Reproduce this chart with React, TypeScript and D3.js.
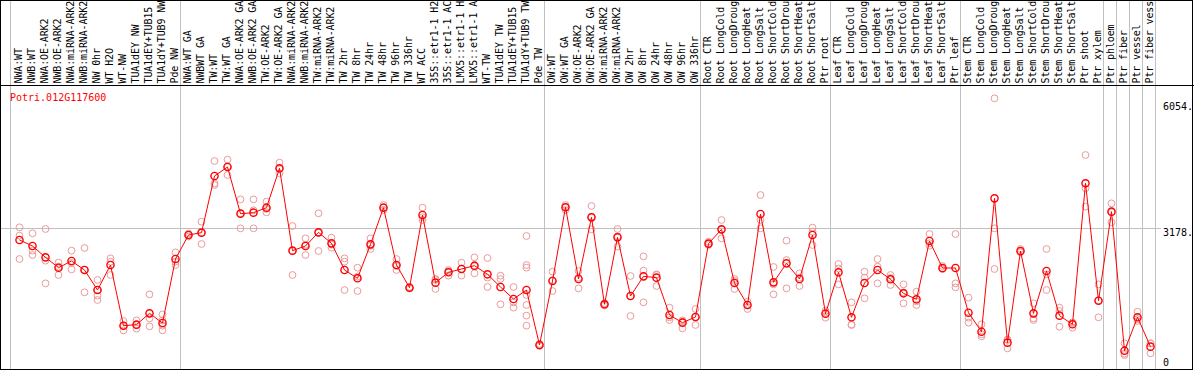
import { scaleLinear, line as d3line } from "d3";

const gene = "Potri.012G117600";

const categories = [
  "NWA:WT", "NWB:WT", "NWA:OE-ARK2", "NWB:OE-ARK2", "NWA:miRNA-ARK2", "NWB:miRNA-ARK2",
  "NW 0hr", "WT H2O", "WT-NW", "TUA1dEY NW", "TUA1dEY+TUB15 NW", "TUA1dY+TUB9 NW", "Pde NW",
  "NWA:WT GA", "NWBWT GA", "TW:WT", "TW:WT GA", "NWA:OE-ARK2 GA", "NWB:OE-ARK2 GA",
  "TW:OE-ARK2", "TW:OE-ARK2 GA", "NWA:miRNA-ARK2", "NWB:miRNA-ARK2", "TW:miRNA-ARK2",
  "TW:miRNA-ARK2", "TW 2hr", "TW 8hr", "TW 24hr", "TW 48hr", "TW 96hr", "TW 336hr", "WT ACC",
  "35S::etr1-1 H2O", "35S::etr1-1 ACC", "LMX5::etr1-1 H2O", "LMX5::etr1-1 ACC", "WT-TW",
  "TUA1dEY TW", "TUA1dEY+TUB15 TW", "TUA1dY+TUB9 TW", "Pde TW",
  "OW:WT", "OW:WT GA", "OW:OE-ARK2", "OW:OE-ARK2 GA", "OW:miRNA-ARK2", "OW:miRNA-ARK2",
  "OW 2hr", "OW 8hr", "OW 24hr", "OW 48hr", "OW 96hr", "OW 336hr",
  "Root CTR", "Root LongCold", "Root LongDrought", "Root LongHeat", "Root LongSalt",
  "Root ShortCold", "Root ShortDrought", "Root ShortHeat", "Root ShortSalt", "Ptr root",
  "Leaf CTR", "Leaf LongCold", "Leaf LongDrought", "Leaf LongHeat", "Leaf LongSalt",
  "Leaf ShortCold", "Leaf ShortDrought", "Leaf ShortHeat", "Leaf ShortSalt", "Ptr leaf",
  "Stem CTR", "Stem LongCold", "Stem LongDrought", "Stem LongHeat", "Stem LongSalt",
  "Stem ShortCold", "Stem ShortDrought", "Stem ShortHeat", "Stem ShortSalt",
  "Ptr shoot", "Ptr xylem", "Ptr phloem", "Ptr fiber", "Ptr vessel", "Ptr fiber vessel",
];

const means = [
  2901, 2764, 2505, 2269, 2422, 2216, 1759, 2330, 944, 967, 1226, 1005, 2467,
  3016, 3069, 4363, 4569, 3503, 3526, 3640, 4539, 2658, 2764, 3076, 2825, 2216,
  2026, 2802, 3640, 2330, 1812, 3472, 1927, 2163, 2239, 2315, 2117, 1828, 1553,
  1759, 503, 1965, 3648, 2010, 3419, 1432, 2962, 1622, 2071, 2041, 1188, 1013,
  1142, 2818, 3145, 1919, 1416, 3495, 1934, 2368, 2010, 3016, 1218, 2163, 1135,
  1919, 2216, 2003, 1683, 1546, 2878, 2262, 2262, 1241, 807, 3853, 556, 2650,
  1226, 2193, 1173, 975, 4196, 1515, 3549, 373, 1135, 465,
];

const replicates = [
  [3191, 3000, 2467], [3054, 2658, 2559], [3153, 2429, 1911], [2383, 2292, 2102],
  [2658, 2377, 2231], [2719, 2223, 1706], [1988, 1759, 1630, 1531], [2482, 2406, 2102],
  [1051, 944, 836], [1066, 959, 876], [1660, 1112, 929], [1203, 1066, 944, 838],
  [2620, 2406, 2330], [3050, 3016, 2980], [3320, 3069, 2810], [4706, 4196, 4158],
  [4737, 4584, 4386], [3830, 3511, 3168], [3830, 3580, 3168], [3777, 3610, 3533],
  [4668, 4524, 4424], [3221, 2651, 2102], [2939, 2794, 2559], [3511, 3068, 2650],
  [2955, 2795, 2726], [2482, 2406, 1759], [2269, 2064, 1736], [2939, 2771, 2696],
  [3701, 3640, 3587], [2467, 2307, 2216], [1830, 1812, 1795], [3640, 3420, 3358],
  [2010, 1988, 1782], [2216, 2186, 2087], [2383, 2246, 2087], [2505, 2300, 2140],
  [2490, 2041, 1828], [2087, 2010, 1432], [1828, 1476, 1356],
  [2993, 2330, 2269, 1645, 1416, 1173, 944], [530, 503, 480], [2178, 1980, 1736],
  [3701, 3656, 3587], [2193, 2040, 1797], [3678, 3434, 3145], [1460, 1432, 1405],
  [3153, 2985, 2749], [2079, 1622, 1165], [2528, 2201, 1477], [2117, 2102, 1850],
  [1356, 1134, 1074], [1066, 1036, 883], [1325, 1142, 960], [2863, 2818, 2787],
  [3358, 3138, 2939], [2010, 1965, 1782], [1493, 1430, 1325], [3929, 3358, 3168],
  [2285, 1888, 1660], [2886, 2444, 1797], [2140, 2040, 1850], [3183, 3092, 2787],
  [1241, 1285, 1127], [2353, 2250, 1888], [1477, 968, 960], [2178, 2041, 1569],
  [2467, 2292, 1911], [2102, 2035, 1873], [1888, 1706, 1455], [1721, 1500, 1416],
  [3038, 2825, 2771], [2307, 2240, 2239], [3038, 1911, 1820], [1584, 1127, 1013],
  [975, 746, 700], [6138, 3168, 2239], [625, 617, 426], [2696, 2635, 2620],
  [1455, 1112, 1074], [2696, 2117, 1759], [1356, 1279, 921], [1020, 1005, 899],
  [4843, 4082, 3663], [1888, 1523, 1135], [3739, 3533, 3305], [541, 304, 274],
  [1264, 1090, 1051], [541, 541, 312],
];

// last sample index of each group (a gray separator follows it)
const groupEnds = [12, 40, 52, 62, 72, 83, 84, 85, 86, 87];
const yTicks = [6054, 3178, 0];

const W = 1194;
const H = 370;
const labelBottom = 85;
const maxChars = 14; // label strip only fits this many characters
const font = "'DejaVu Sans Mono', monospace";

export default function App() {
  const x = scaleLinear().domain([0, categories.length - 1]).range([19.5, 19.5 + 13 * (categories.length - 1)]);
  const y = scaleLinear().domain([0, 6054]).range([367, 102]);

  const path = d3line<number>()
    .x((_, i) => x(i))
    .y((d) => y(d))(means) ?? undefined;

  const sepX = [x(0) - 9, ...groupEnds.map((i) => x(i) + 5)];

  return (
    <div style={{ position: "fixed", left: 0, top: 0 }}>
      <svg width={W} height={H} style={{ display: "block", fontFamily: font, fontSize: 10 }}>
        <rect x={0} y={0} width={W} height={H} fill="#fff" />

        {/* group separators */}
        {sepX.map((sx, i) => (
          <line key={i} x1={sx} x2={sx} y1={0} y2={H} stroke="#c0c0c0" strokeWidth={1} />
        ))}
        {/* mid reference line */}
        <line x1={0} x2={1161} y1={Math.round(y(3178)) + 0.5} y2={Math.round(y(3178)) + 0.5} stroke="#c0c0c0" />

        {/* sample labels, cut to the strip height like the original */}
        {categories.map((c, i) => (
          <text key={i} transform={`translate(${x(i) + 2.5},83.5) rotate(-90)`} fill="#000" letterSpacing={-0.12}>
            {c.slice(0, maxChars)}
          </text>
        ))}

        {/* frame */}
        <rect x={0.5} y={0.5} width={W - 2} height={H - 1} fill="none" stroke="#000" />
        <line x1={0} x2={W} y1={labelBottom + 0.5} y2={labelBottom + 0.5} stroke="#000" />

        <text x={10} y={101} fill="#ff0000">{gene}</text>

        {/* y tick labels */}
        {yTicks.map((t) => (
          <text key={t} x={1163} y={Math.min(y(t) + 8, 365.5)} fill="#000">
            {t === 0 ? "0" : `${t}.`}
          </text>
        ))}

        {/* replicates */}
        {replicates.map((reps, i) =>
          reps.map((v, j) => (
            <circle key={`${i}-${j}`} cx={x(i)} cy={y(v)} r={3.4} fill="none" stroke="#eb9a9a" strokeWidth={1} />
          ))
        )}

        {/* mean line */}
        <path d={path} fill="none" stroke="#ff0000" strokeWidth={1} />
        {means.map((v, i) => (
          <circle key={i} cx={x(i)} cy={y(v)} r={3.6} fill="none" stroke="#ff0000" strokeWidth={1.4} />
        ))}
      </svg>
    </div>
  );
}
